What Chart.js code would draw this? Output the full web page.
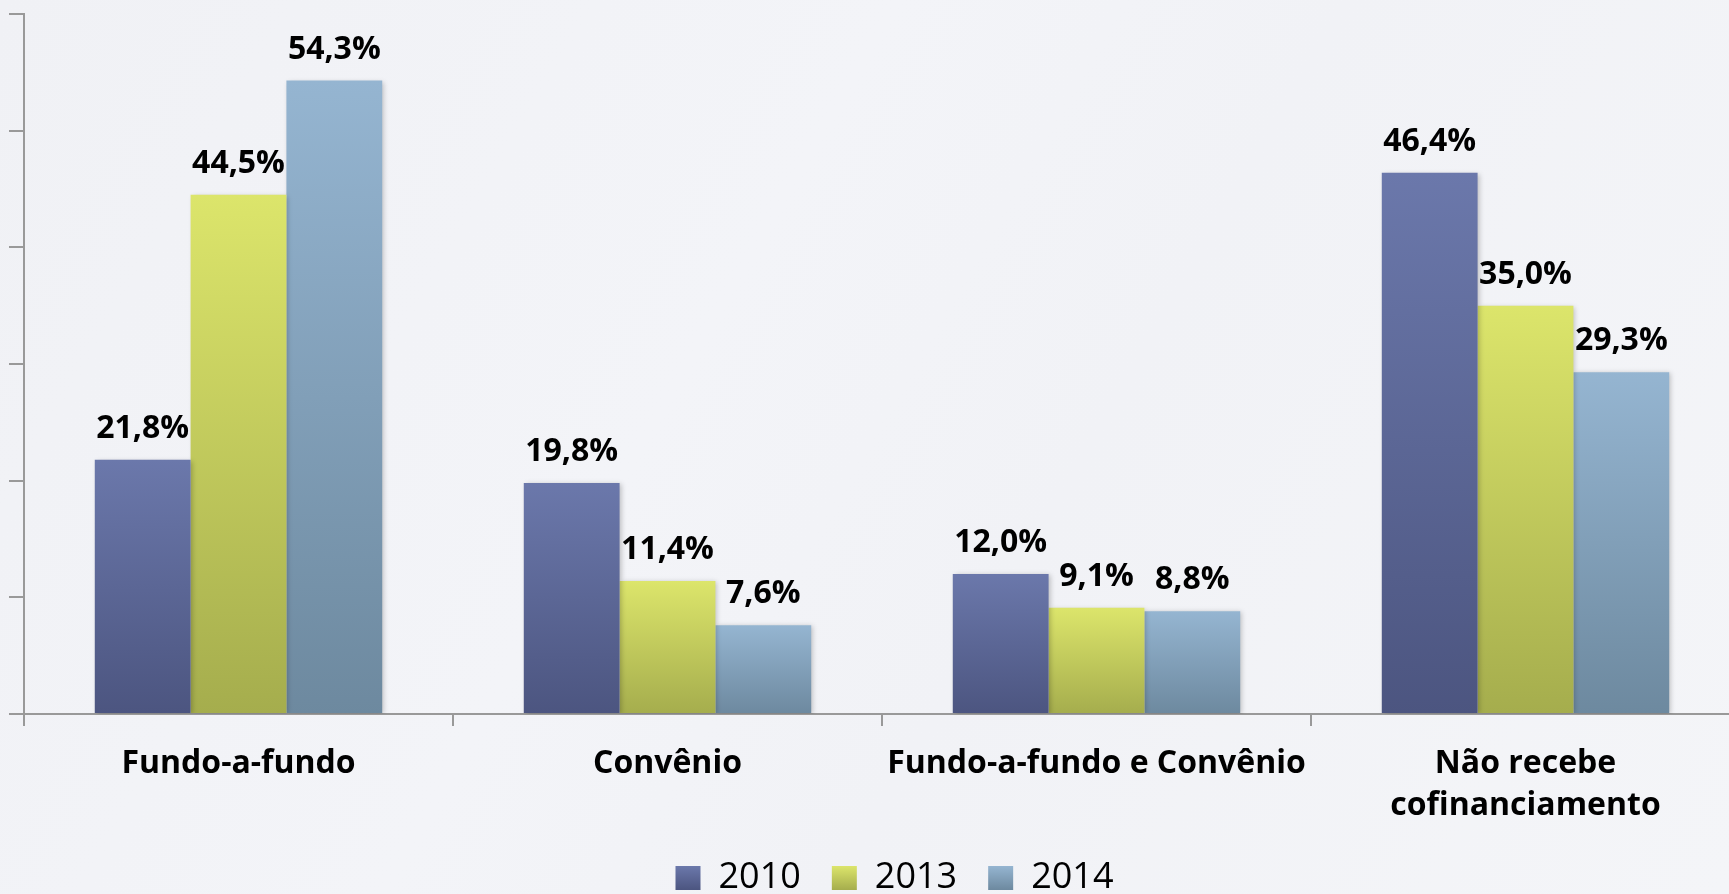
<!DOCTYPE html>
<html>
<head>
<meta charset="utf-8">
<script src="https://cdn.jsdelivr.net/npm/chart.js@4.4.1/dist/chart.umd.min.js"></script>
<style>
  html, body { margin: 0; padding: 0; overflow: hidden; background: #f2f3f7; }
  #wrap { width: 1729px; height: 894px; overflow: hidden; position: relative;
          background: linear-gradient(120deg, #f0f1f5 0%, #f3f4f8 40%, #f1f2f6 60%, #f4f5f8 100%); }
  canvas { position: absolute; left: 0; top: 0; }
</style>
</head>
<body>
<div id="wrap"><canvas id="c" width="1745" height="921"></canvas></div>
<script>
const categories = ['Fundo-a-fundo', 'Convênio', 'Fundo-a-fundo e Convênio', ['Não recebe', 'cofinanciamento']];
const seriesNames = ['2010', '2013', '2014'];
const values2010 = [21.8, 19.8, 12.0, 46.4];
const values2013 = [44.5, 11.4, 9.1, 35.0];
const values2014 = [54.3, 7.6, 8.8, 29.3];
const yTicks = [0, 10, 20, 30, 40, 50, 60];

const gradTop = ['#6b78ab', '#dce56b', '#95b5d1'];
const gradBottom = ['#4c5580', '#a5ad4d', '#6d899f'];
const legendColors = ['#5d6895', '#c3cb5d', '#829fb8'];

const LEGEND_PAD = 31, LEGEND_FONT = 36, LEGEND_BOX_W = 25, LEGEND_BOX_H = 24;

function barGradient(i) {
  return function(ctx) {
    const chart = ctx.chart;
    if (!chart.chartArea || ctx.type !== 'data') return legendColors[i];
    const ys = chart.scales.y;
    const top = ys.getPixelForValue(ctx.raw);
    const bottom = ys.getPixelForValue(0);
    const g = chart.ctx.createLinearGradient(0, top, 0, bottom);
    g.addColorStop(0, gradTop[i]);
    g.addColorStop(1, gradBottom[i]);
    return g;
  };
}

const shadowPlugin = {
  id: 'barShadow',
  beforeDatasetsDraw(chart) {
    const c = chart.ctx;
    c.save();
    c.shadowColor = 'rgba(0,0,0,0.22)';
    c.shadowBlur = 5;
    c.shadowOffsetX = 2;
    c.shadowOffsetY = 1;
  },
  afterDatasetsDraw(chart) {
    chart.ctx.restore();
  }
};

const legendShift = {
  id: 'legendShift',
  afterLayout(chart) {
    const lg = chart.legend;
    if (!lg) return;
    lg.top -= 15; lg.bottom -= 15;
    lg.left += 20; lg.right += 20;
  }
};

const labelPlugin = {
  id: 'valueLabels',
  afterDatasetsDraw(chart) {
    const c = chart.ctx;
    c.save();
    c.font = 'bold 32px "Open Sans"';
    c.fillStyle = '#000';
    c.textAlign = 'center';
    c.textBaseline = 'alphabetic';
    chart.data.datasets.forEach((ds, di) => {
      const meta = chart.getDatasetMeta(di);
      meta.data.forEach((el, i) => {
        const v = ds.data[i];
        c.fillText(v.toFixed(1).replace('.', ',') + '%', el.x, el.y - 22);
      });
    });
    c.restore();
  }
};

const allSeries = [values2010, values2013, values2014];

new Chart(document.getElementById('c'), {
  type: 'bar',
  data: {
    labels: categories,
    datasets: seriesNames.map((name, i) => ({
      label: name,
      data: allSeries[i],
      backgroundColor: barGradient(i),
      borderWidth: 0,
      categoryPercentage: 0.67,
      barPercentage: 1.0
    }))
  },
  options: {
    responsive: false,
    animation: false,
    devicePixelRatio: 1,
    layout: { padding: { left: 9, top: 14, right: 5, bottom: 0 } },
    plugins: {
      tooltip: { enabled: false },
      legend: {
        position: 'bottom',
        labels: {
          boxWidth: LEGEND_BOX_W,
          boxHeight: LEGEND_BOX_H,
          padding: LEGEND_PAD,
          color: '#000',
          font: { family: 'Open Sans', size: LEGEND_FONT },
          generateLabels(chart) {
            const lg = chart.legend;
            return chart.data.datasets.map((ds, i) => {
              let fill = legendColors[i];
              if (lg && Number.isFinite(lg.top)) {
                const y0 = lg.top + LEGEND_PAD + Math.max((LEGEND_FONT - LEGEND_BOX_H) / 2, 0);
                const g = chart.ctx.createLinearGradient(0, y0, 0, y0 + LEGEND_BOX_H);
                g.addColorStop(0, gradTop[i]);
                g.addColorStop(1, gradBottom[i]);
                fill = g;
              }
              return {
                text: ds.label,
                fillStyle: fill,
                strokeStyle: legendColors[i],
                lineWidth: 0,
                hidden: false,
                datasetIndex: i
              };
            });
          }
        }
      }
    },
    scales: {
      x: {
        grid: { drawOnChartArea: false, drawTicks: true, tickLength: 12, offset: true, color: '#999', lineWidth: 2 },
        border: { color: '#999', width: 2 },
        ticks: { padding: 17, color: '#000', font: { family: 'Open Sans', size: 32, weight: 'bold', lineHeight: 1.3125 }, maxRotation: 0, autoSkip: false }
      },
      y: {
        min: yTicks[0],
        max: yTicks[yTicks.length - 1],
        afterBuildTicks(axis) { axis.ticks = yTicks.map(v => ({ value: v })); },
        grid: { drawOnChartArea: false, drawTicks: true, tickLength: 15, color: '#999', lineWidth: 2 },
        border: { color: '#999', width: 2 },
        ticks: { display: false }
      }
    }
  },
  plugins: [shadowPlugin, labelPlugin, legendShift]
});
</script>
</body>
</html>
